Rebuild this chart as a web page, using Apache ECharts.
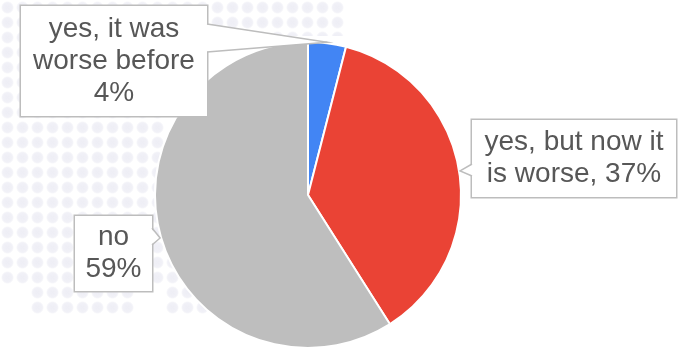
<!DOCTYPE html>
<html>
<head>
<meta charset="utf-8">
<script src="https://cdn.jsdelivr.net/npm/echarts@6/dist/echarts.min.js"></script>
<style>
  html, body { margin: 0; padding: 0; background: #ffffff; }
  #chart { width: 678px; height: 348px; }
</style>
</head>
<body>
<div id="chart"></div>
<script>
// Survey answers and their shares (percent)
const categories = ['yes, it was\nworse before', 'yes, but now it\nis worse', 'no'];
const shares = [4, 37, 59];
// text placed between an answer and its percentage inside the callout
const valueSeparators = ['\n', ', ', '\n'];
const sliceColors = ['#4285f4', '#ea4335', '#bebebe'];

// Callout boxes: centre, outer size, side that carries the pointer,
// and where the pointer's base meets that side (offsets from the box top)
const callouts = [
  { x: 114, y: 61, w: 186, h: 110, side: 'right', base: [18, 46] },
  { x: 574, y: 158.5, w: 204, h: 77, side: 'left', base: [44, 56] },
  { x: 113.5, y: 253.5, w: 77, h: 75, side: 'right', base: [12, 29] }
];

const chart = echarts.init(document.getElementById('chart'), null, { renderer: 'canvas' });

// faint, soft dotted backdrop
function dotPattern() {
  const c = document.createElement('canvas');
  c.width = 15; c.height = 15;
  const g = c.getContext('2d');
  const grad = g.createRadialGradient(7.5, 7.5, 0, 7.5, 7.5, 6.5);
  grad.addColorStop(0, 'rgba(232,232,242,0.75)');
  grad.addColorStop(0.75, 'rgba(232,232,242,0.6)');
  grad.addColorStop(1, 'rgba(232,232,242,0)');
  g.fillStyle = grad;
  g.beginPath();
  g.arc(7.5, 7.5, 6.5, 0, Math.PI * 2);
  g.fill();
  return c;
}
const dots = { image: dotPattern(), repeat: 'repeat' };
const backdrop = [
  { type: 'rect', silent: true, z: -10, shape: { x: 0, y: 0, width: 345, height: 36 }, style: { fill: dots } },
  { type: 'rect', silent: true, z: -10, shape: { x: 0, y: 36, width: 165, height: 249 }, style: { fill: dots } },
  { type: 'rect', silent: true, z: -10, shape: { x: 30, y: 285, width: 105, height: 30 }, style: { fill: dots } },
  { type: 'rect', silent: true, z: -10, shape: { x: 165, y: 240, width: 45, height: 75 }, style: { fill: dots } }
];

const labelFont = {
  fontFamily: '"Liberation Sans", Arial, sans-serif',
  fontSize: 28,
  lineHeight: 32,
  color: '#575757'
};

const pieData = categories.map((name, i) => ({
  name: name,
  value: shares[i],
  itemStyle: { color: sliceColors[i] },
  label: {
    width: callouts[i].w - 16,
    padding: [(callouts[i].h - (i === 0 ? 96 : 64)) / 2, 8]
  }
}));

chart.setOption({
  animation: false,
  backgroundColor: '#ffffff',
  graphic: backdrop,
  series: [{
    type: 'pie',
    center: [308, 195],
    radius: 153,
    startAngle: 90,
    clockwise: true,
    avoidLabelOverlap: false,
    emphasis: { disabled: true },
    itemStyle: { borderColor: '#ffffff', borderWidth: 2 },
    label: Object.assign({
      show: true,
      position: 'outside',
      align: 'center',
      verticalAlign: 'middle',
      backgroundColor: '#ffffff',
      borderColor: '#bdbdbd',
      borderWidth: 1.5,
      formatter: p => p.name + valueSeparators[p.dataIndex] + Math.round(p.percent) + '%'
    }, labelFont),
    labelLine: { show: false },
    labelLayout: p => ({
      x: callouts[p.dataIndex].x,
      y: callouts[p.dataIndex].y,
      align: 'center',
      verticalAlign: 'middle'
    }),
    data: pieData
  }]
});

// Pointers from each callout to the middle of its slice's arc
const data = chart.getModel().getSeriesByIndex(0).getData();
const pointers = [];
callouts.forEach((c, i) => {
  const lay = data.getItemLayout(i);
  const mid = (lay.startAngle + lay.endAngle) / 2;
  const tip = [lay.cx + (lay.r + 1) * Math.cos(mid), lay.cy + (lay.r + 1) * Math.sin(mid)];
  const top = c.y - c.h / 2;
  const edge = c.side === 'right' ? c.x + c.w / 2 : c.x - c.w / 2;
  const inward = c.side === 'right' ? -1.5 : 1.5;
  const a = [edge, top + c.base[0]];
  const b = [edge, top + c.base[1]];
  pointers.push({
    type: 'polygon', silent: true, z: 100,
    shape: { points: [[edge + inward, a[1]], tip, [edge + inward, b[1]]] },
    style: { fill: '#ffffff', stroke: null }
  });
  pointers.push({
    type: 'polyline', silent: true, z: 101,
    shape: { points: [a, tip, b] },
    style: { stroke: '#bdbdbd', lineWidth: 1.5, fill: null }
  });
});
chart.setOption({ graphic: backdrop.concat(pointers) });
</script>
</body>
</html>
